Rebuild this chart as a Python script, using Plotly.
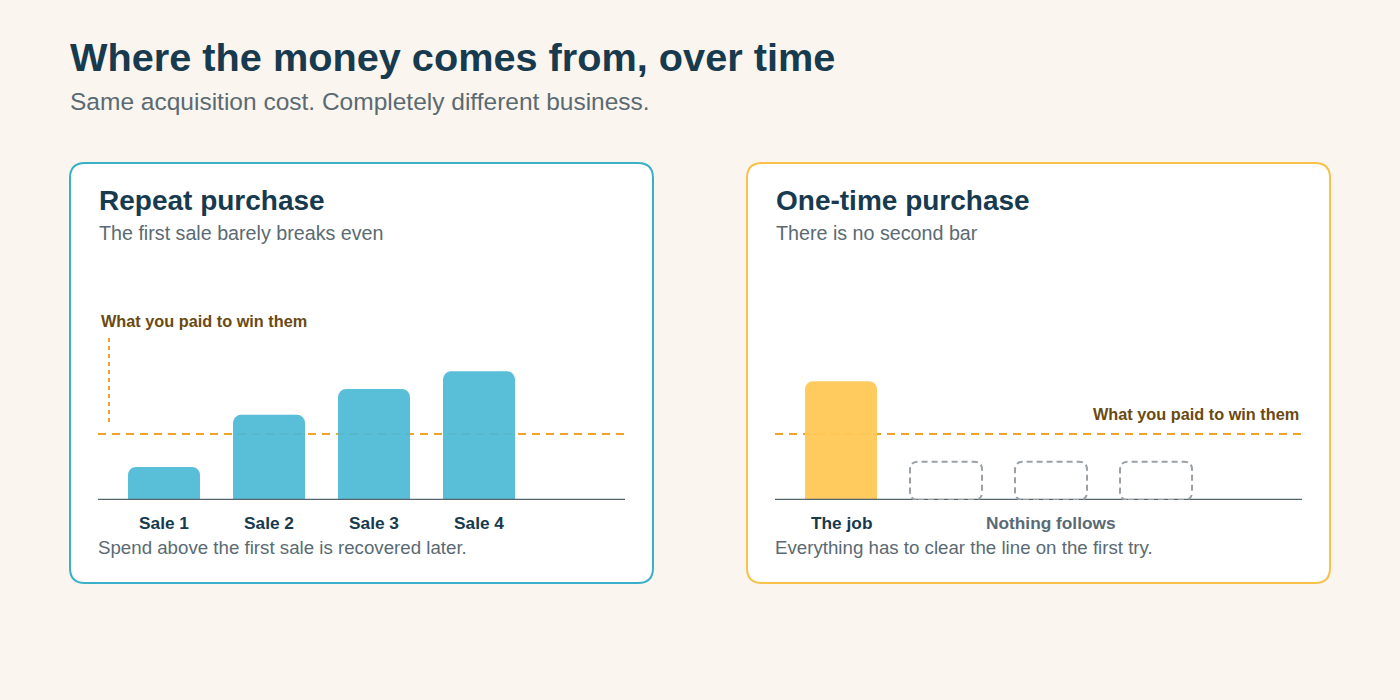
import plotly.graph_objects as go

# data
sale_labels = ["Sale 1", "Sale 2", "Sale 3", "Sale 4"]
repeat_values = [50, 129, 168, 195]
onetime_labels = ["The job"]
onetime_values = [180]
ghost_slots = [1, 2, 3]
ghost_value = 58
acquisition_cost = 100

W, H = 1400, 700
NAVY = "#173a4e"
GREY = "#5a6a72"
TEAL = "#4fbad5"
GOLD = "#ffc855"
ORANGE = "#f0a22a"
BROWN = "#6b4a12"
FONT = "Liberation Sans, Arial, Helvetica, sans-serif"

# scale helpers (px per unit on both axes)
PX_X = 105.0
PX_Y = 0.66
XR = [-0.6286, 4.39]
YR = [0, 250 / PX_Y]
BAR_W = 72 / PX_X


def py(y):
    return 1 - y / H


def px(x):
    return x / W


def card_path(x0, y0, x1, y1, r=15):
    rx, ry = r / W, r / H
    a, b, c, d = px(x0), py(y1), px(x1), py(y0)  # b bottom, d top (paper)
    return (f"M {a+rx},{b} L {c-rx},{b} Q {c},{b} {c},{b+ry} L {c},{d-ry} "
            f"Q {c},{d} {c-rx},{d} L {a+rx},{d} Q {a},{d} {a},{d-ry} "
            f"L {a},{b+ry} Q {a},{b} {a+rx},{b} Z")


def ghost_path(xc, h, r=8):
    rx, ry = r / PX_X, r / PX_Y
    x0, x1 = xc - BAR_W / 2, xc + BAR_W / 2
    y0, y1 = 0, h
    return (f"M {x0+rx},{y0} L {x1-rx},{y0} Q {x1},{y0} {x1},{y0+ry} L {x1},{y1-ry} "
            f"Q {x1},{y1} {x1-rx},{y1} L {x0+rx},{y1} Q {x0},{y1} {x0},{y1-ry} "
            f"L {x0},{y0+ry} Q {x0},{y0} {x0+rx},{y0} Z")


fig = go.Figure()

fig.add_trace(go.Bar(x=list(range(len(repeat_values))), y=repeat_values, width=BAR_W,
                     marker=dict(color=TEAL, cornerradius=8, line=dict(width=0)),
                     opacity=0.94, xaxis="x", yaxis="y", hoverinfo="skip"))
fig.add_trace(go.Bar(x=list(range(len(onetime_values))), y=onetime_values, width=BAR_W,
                     marker=dict(color=GOLD, cornerradius=8, line=dict(width=0)),
                     opacity=0.94, xaxis="x2", yaxis="y2", hoverinfo="skip"))

shapes = []
# cards
shapes.append(dict(type="path", path=card_path(70, 163, 653, 583), xref="paper", yref="paper",
                   fillcolor="white", line=dict(color="#3ab0c8", width=2), layer="below"))
shapes.append(dict(type="path", path=card_path(747, 163, 1330, 583), xref="paper", yref="paper",
                   fillcolor="white", line=dict(color="#f7c14a", width=2), layer="below"))

for xa, ya in (("x", "y"), ("x2", "y2")):
    # cost line
    shapes.append(dict(type="line", xref=f"{xa} domain", yref=ya, x0=0, x1=1,
                       y0=acquisition_cost, y1=acquisition_cost,
                       line=dict(color=ORANGE, width=2, dash="8px,6px"), layer="below"))
    # baseline
    shapes.append(dict(type="line", xref=f"{xa} domain", yref=ya, x0=0, x1=1, y0=0, y1=0,
                       line=dict(color="#55656d", width=2.5), layer="above"))

# leader from label to the line (left panel)
lead_x = (109 - 164) / PX_X
shapes.append(dict(type="line", xref="x", yref="y", x0=lead_x, x1=lead_x,
                   y0=acquisition_cost + 12 / PX_Y, y1=acquisition_cost + 100 / PX_Y,
                   line=dict(color=ORANGE, width=2, dash="4px,4px"), layer="below"))

# ghost bars
for s in ghost_slots:
    shapes.append(dict(type="path", path=ghost_path(s, ghost_value), xref="x2", yref="y2",
                       line=dict(color="#9aa1a6", width=2, dash="6px,4px"), layer="above"))

ann = []


def text(x, y, s, size, color, bold=False, xanchor="left", xref="paper"):
    ann.append(dict(x=x if xref != "paper" else px(x), y=py(y), xref=xref, yref="paper",
                    text=f"<b>{s}</b>" if bold else s, showarrow=False,
                    xanchor=xanchor, yanchor="middle",
                    font=dict(family=FONT, size=size, color=color)))


text(68, 57, "Where the money comes from, over time", 39.7, NAVY, bold=True)
text(68, 101, "Same acquisition cost. Completely different business.", 24.5, GREY)

text(97, 200, "Repeat purchase", 28, NAVY, bold=True)
text(97, 233, "The first sale barely breaks even", 19.7, GREY)
text(99, 321, "What you paid to win them", 16.3, BROWN, bold=True)
text(96, 547, "Spend above the first sale is recovered later.", 18.7, GREY)
for i, lab in enumerate(sale_labels):
    text(i, 523, lab, 17.3, NAVY, bold=True, xanchor="center", xref="x")

text(774, 200, "One-time purchase", 28, NAVY, bold=True)
text(774, 233, "There is no second bar", 19.7, GREY)
text(1301, 414, "What you paid to win them", 16.3, BROWN, bold=True, xanchor="right")
text(773, 547, "Everything has to clear the line on the first try.", 18.7, GREY)
for i, lab in enumerate(onetime_labels):
    text(i, 523, lab, 17.3, NAVY, bold=True, xanchor="center", xref="x2")
text(sum(ghost_slots) / len(ghost_slots), 523, "Nothing follows", 17.3, GREY, bold=True,
     xanchor="center", xref="x2")

ax = dict(range=XR, showgrid=False, zeroline=False, showticklabels=False, showline=False,
          fixedrange=True)
ay = dict(range=YR, showgrid=False, zeroline=False, showticklabels=False, showline=False,
          fixedrange=True, domain=[py(500), py(250)])

fig.update_layout(
    width=W, height=H, margin=dict(l=0, r=0, t=0, b=0),
    paper_bgcolor="#faf5ef", plot_bgcolor="rgba(0,0,0,0)",
    showlegend=False, barmode="overlay",
    xaxis=dict(ax, domain=[px(98), px(625)]),
    yaxis=dict(ay, anchor="x"),
    xaxis2=dict(ax, domain=[px(775), px(1302)], anchor="y2"),
    yaxis2=dict(ay, anchor="x2"),
    shapes=shapes, annotations=ann,
)

fig.write_html("out.html", config={"displayModeBar": False},
               post_script="document.body.style.margin='0';")
